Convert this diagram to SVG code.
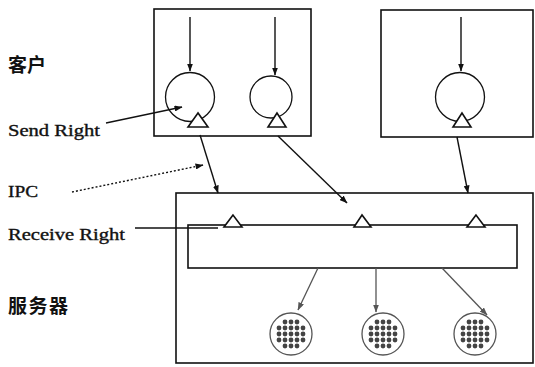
<svg xmlns="http://www.w3.org/2000/svg" xmlns:xlink="http://www.w3.org/1999/xlink" width="535" height="367" viewBox="0 0 535 367">
<style>
.box{fill:none;stroke:#111;stroke-width:1.6}
.port{fill:none;stroke:#111;stroke-width:1.3}
.tri{fill:#fff;stroke:#111;stroke-width:1.6}
.con{fill:none;stroke:#111;stroke-width:1.4}
.gcon{fill:none;stroke:#555;stroke-width:1.3}
.thr{fill:#fff;stroke:#555;stroke-width:1.3}
.dot{fill:#444}
.lat{font-family:"Liberation Serif",serif;font-size:16px;fill:#111;stroke:#111;stroke-width:0.35}
.cjk{font-family:"Noto Sans CJK SC",sans-serif;font-size:19px;font-weight:bold;fill:#111}
</style>
<defs>
<marker id="ah" markerWidth="8" markerHeight="6" refX="7.5" refY="3" orient="auto" markerUnits="userSpaceOnUse">
<path d="M0,0 L8,3 L0,6 Z" fill="#111"/>
</marker>
<marker id="ahg" markerWidth="8" markerHeight="6" refX="7.5" refY="3" orient="auto" markerUnits="userSpaceOnUse">
<path d="M0,0 L8,3 L0,6 Z" fill="#555"/>
</marker>
<g id="dots">
<circle class="dot" cx="-6" cy="-12" r="2.4"/><circle class="dot" cx="0" cy="-12" r="2.4"/><circle class="dot" cx="6" cy="-12" r="2.4"/>
<circle class="dot" cx="-12" cy="-6" r="2.4"/><circle class="dot" cx="-6" cy="-6" r="2.4"/><circle class="dot" cx="0" cy="-6" r="2.4"/><circle class="dot" cx="6" cy="-6" r="2.4"/><circle class="dot" cx="12" cy="-6" r="2.4"/>
<circle class="dot" cx="-12" cy="0" r="2.4"/><circle class="dot" cx="-6" cy="0" r="2.4"/><circle class="dot" cx="0" cy="0" r="2.4"/><circle class="dot" cx="6" cy="0" r="2.4"/><circle class="dot" cx="12" cy="0" r="2.4"/>
<circle class="dot" cx="-12" cy="6" r="2.4"/><circle class="dot" cx="-6" cy="6" r="2.4"/><circle class="dot" cx="0" cy="6" r="2.4"/><circle class="dot" cx="6" cy="6" r="2.4"/><circle class="dot" cx="12" cy="6" r="2.4"/>
<circle class="dot" cx="-6" cy="12" r="2.4"/><circle class="dot" cx="0" cy="12" r="2.4"/><circle class="dot" cx="6" cy="12" r="2.4"/>
</g>
</defs>

<g id="labels">
<text class="cjk" x="8" y="72">客户</text>
<text class="lat" x="8" y="136" textLength="92" lengthAdjust="spacingAndGlyphs">Send  Right</text>
<text class="lat" x="8" y="197" textLength="30" lengthAdjust="spacingAndGlyphs">IPC</text>
<text class="lat" x="8" y="240" textLength="117" lengthAdjust="spacingAndGlyphs">Receive  Right</text>
<text class="cjk" x="8" y="313" textLength="60" lengthAdjust="spacing">服务器</text>
</g>

<g id="client1">
<rect class="box" x="154" y="9" width="157" height="127"/>
<circle class="port" cx="190" cy="97" r="24.5"/>
<circle class="port" cx="271" cy="97" r="21"/>
<polygon class="tri" points="198,113 188,127 208,127"/>
<polygon class="tri" points="277,113 268,127 286,127"/>
</g>

<g id="client2">
<rect class="box" x="381" y="10" width="152" height="127"/>
<circle class="port" cx="460" cy="97" r="24.5"/>
<polygon class="tri" points="462,113 453,127 471,127"/>
</g>

<g id="server">
<rect class="box" x="176" y="193" width="357" height="170"/>
<rect class="box" x="188" y="225" width="329" height="43"/>
<polygon class="tri" points="233,215 224,227 242,227"/>
<polygon class="tri" points="362,215 354,227 371,227"/>
<polygon class="tri" points="476,215 467,227 485,227"/>
</g>

<g id="thread1"><circle class="thr" cx="291" cy="334" r="21"/><use xlink:href="#dots" x="291" y="334"/></g>
<g id="thread2"><circle class="thr" cx="383" cy="334" r="21"/><use xlink:href="#dots" x="383" y="334"/></g>
<g id="thread3"><circle class="thr" cx="475" cy="334" r="21"/><use xlink:href="#dots" x="475" y="334"/></g>

<g id="connectors">
<line class="con" x1="190" y1="17" x2="190" y2="71" marker-end="url(#ah)"/>
<line class="con" x1="275" y1="17" x2="275" y2="75" marker-end="url(#ah)"/>
<line class="con" x1="461" y1="17" x2="461" y2="71" marker-end="url(#ah)"/>
<line class="con" x1="106" y1="123" x2="182" y2="107" marker-end="url(#ah)"/>
<line class="con" x1="72" y1="192" x2="203" y2="165" stroke-dasharray="2,2" marker-end="url(#ah)"/>
<line class="con" x1="135" y1="228" x2="218" y2="228"/>
<line class="con" x1="200" y1="135" x2="218" y2="193" marker-end="url(#ah)"/>
<line class="con" x1="278" y1="136" x2="347" y2="203" marker-end="url(#ah)"/>
<line class="con" x1="457" y1="137" x2="468" y2="193" marker-end="url(#ah)"/>
<line class="gcon" x1="318" y1="268" x2="298" y2="310" marker-end="url(#ahg)"/>
<line class="gcon" x1="376" y1="268" x2="376" y2="312" marker-end="url(#ahg)"/>
<line class="gcon" x1="442" y1="268" x2="487" y2="315" marker-end="url(#ahg)"/>
</g>
</svg>
